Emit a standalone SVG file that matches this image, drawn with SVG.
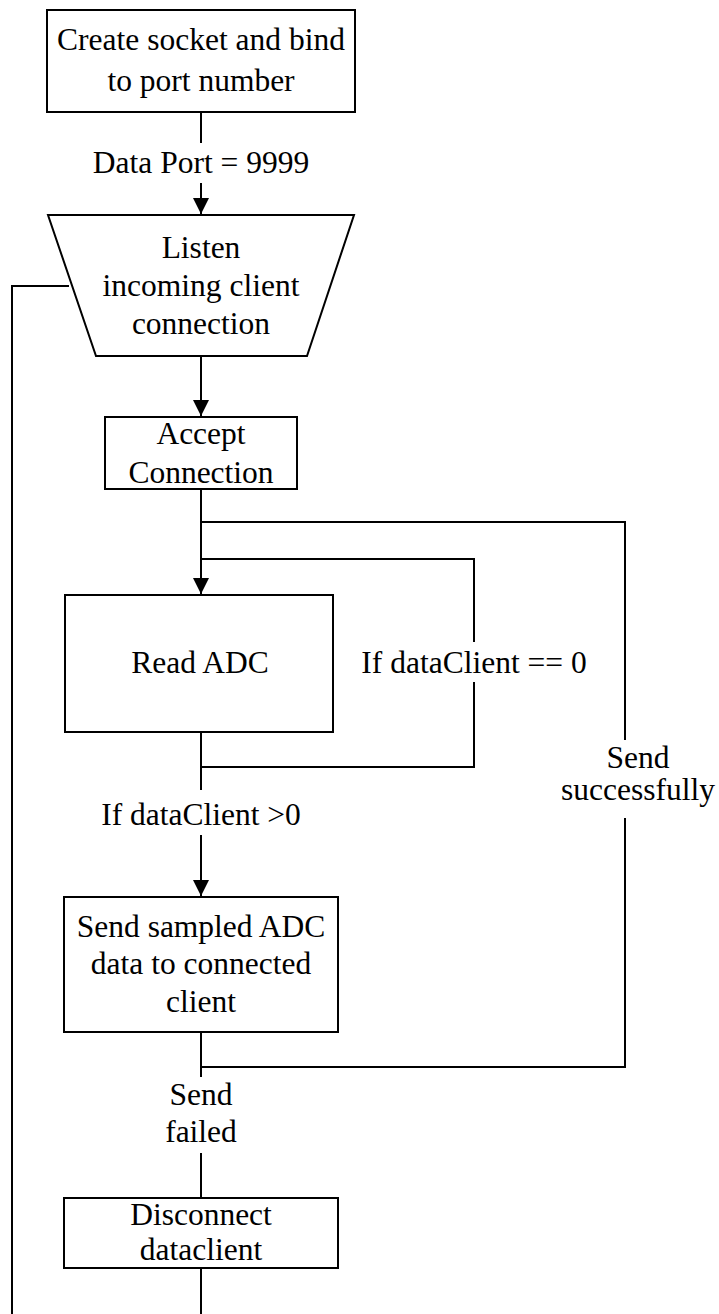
<svg xmlns="http://www.w3.org/2000/svg" width="719" height="1314" viewBox="0 0 719 1314">
  <style>
    .box { fill: #ffffff; stroke: #000000; stroke-width: 2; }
    .wire { fill: none; stroke: #000000; stroke-width: 2; }
    .lbl { font-family: "Liberation Serif", "Times New Roman", serif; font-size: 31.5px; fill: #000000; text-anchor: middle; }
  </style>
  <defs>
    <marker id="arrow" markerUnits="userSpaceOnUse" markerWidth="18" markerHeight="18" viewBox="0 0 18 18" refX="17" refY="9" orient="auto">
      <path d="M1,1 L17,9 L1,17 Z" fill="#000000"/>
    </marker>
  </defs>
  <rect width="719" height="1314" fill="#ffffff"/>

  <!-- connectors -->
  <g id="connectors">
    <line class="wire" x1="201" y1="112" x2="201" y2="143"/>
    <line class="wire" x1="201" y1="183" x2="201" y2="214" marker-end="url(#arrow)"/>
    <line class="wire" x1="201" y1="356" x2="201" y2="416" marker-end="url(#arrow)"/>
    <!-- main loop into Read ADC -->
    <line class="wire" x1="201" y1="489" x2="201" y2="594" marker-end="url(#arrow)"/>
    <!-- retry while no data client -->
    <polyline class="wire" points="201,767 474,767 474,682"/>
    <polyline class="wire" points="474,642 474,559 201,559"/>
    <!-- repeat after successful send -->
    <polyline class="wire" points="201,1067 625,1067 625,818"/>
    <polyline class="wire" points="625,740 625,522 201,522"/>
    <!-- Read ADC to Send -->
    <line class="wire" x1="201" y1="732" x2="201" y2="790"/>
    <line class="wire" x1="201" y1="835" x2="201" y2="896" marker-end="url(#arrow)"/>
    <!-- Send failed to Disconnect -->
    <line class="wire" x1="201" y1="1032" x2="201" y2="1077"/>
    <line class="wire" x1="201" y1="1153" x2="201" y2="1198"/>
    <line class="wire" x1="201" y1="1268" x2="201" y2="1314"/>
    <!-- return path to Listen -->
    <polyline class="wire" points="69,286 12,286 12,1314"/>
    <text class="lbl" x="201" y="173">Data Port = 9999</text>
    <text class="lbl" x="474" y="673">If dataClient == 0</text>
    <text class="lbl" x="201" y="825">If dataClient &gt;0</text>
    <text class="lbl" x="638" y="768">Send</text>
    <text class="lbl" x="638" y="800">successfully</text>
    <text class="lbl" x="201" y="1105">Send</text>
    <text class="lbl" x="201" y="1142">failed</text>
  </g>

  <g id="create-socket">
    <rect class="box" x="47" y="10" width="308" height="102"/>
    <text class="lbl" x="201" y="50">Create socket and bind</text>
    <text class="lbl" x="201" y="91">to port number</text>
  </g>

  <g id="listen">
    <polygon class="box" points="48,215 354,215 307,356 96,356"/>
    <text class="lbl" x="201" y="258">Listen</text>
    <text class="lbl" x="201" y="296">incoming client</text>
    <text class="lbl" x="201" y="334">connection</text>
  </g>

  <g id="accept">
    <rect class="box" x="105" y="417" width="192" height="72"/>
    <text class="lbl" x="201" y="444">Accept</text>
    <text class="lbl" x="201" y="483">Connection</text>
  </g>

  <g id="read-adc">
    <rect class="box" x="65" y="595" width="268" height="137"/>
    <text class="lbl" x="200" y="673">Read ADC</text>
  </g>

  <g id="send-data">
    <rect class="box" x="64" y="897" width="274" height="135"/>
    <text class="lbl" x="201" y="937">Send sampled ADC</text>
    <text class="lbl" x="201" y="974">data to connected</text>
    <text class="lbl" x="201" y="1012">client</text>
  </g>

  <g id="disconnect">
    <rect class="box" x="64" y="1198" width="274" height="70"/>
    <text class="lbl" x="201" y="1225">Disconnect</text>
    <text class="lbl" x="201" y="1260">dataclient</text>
  </g>
</svg>
